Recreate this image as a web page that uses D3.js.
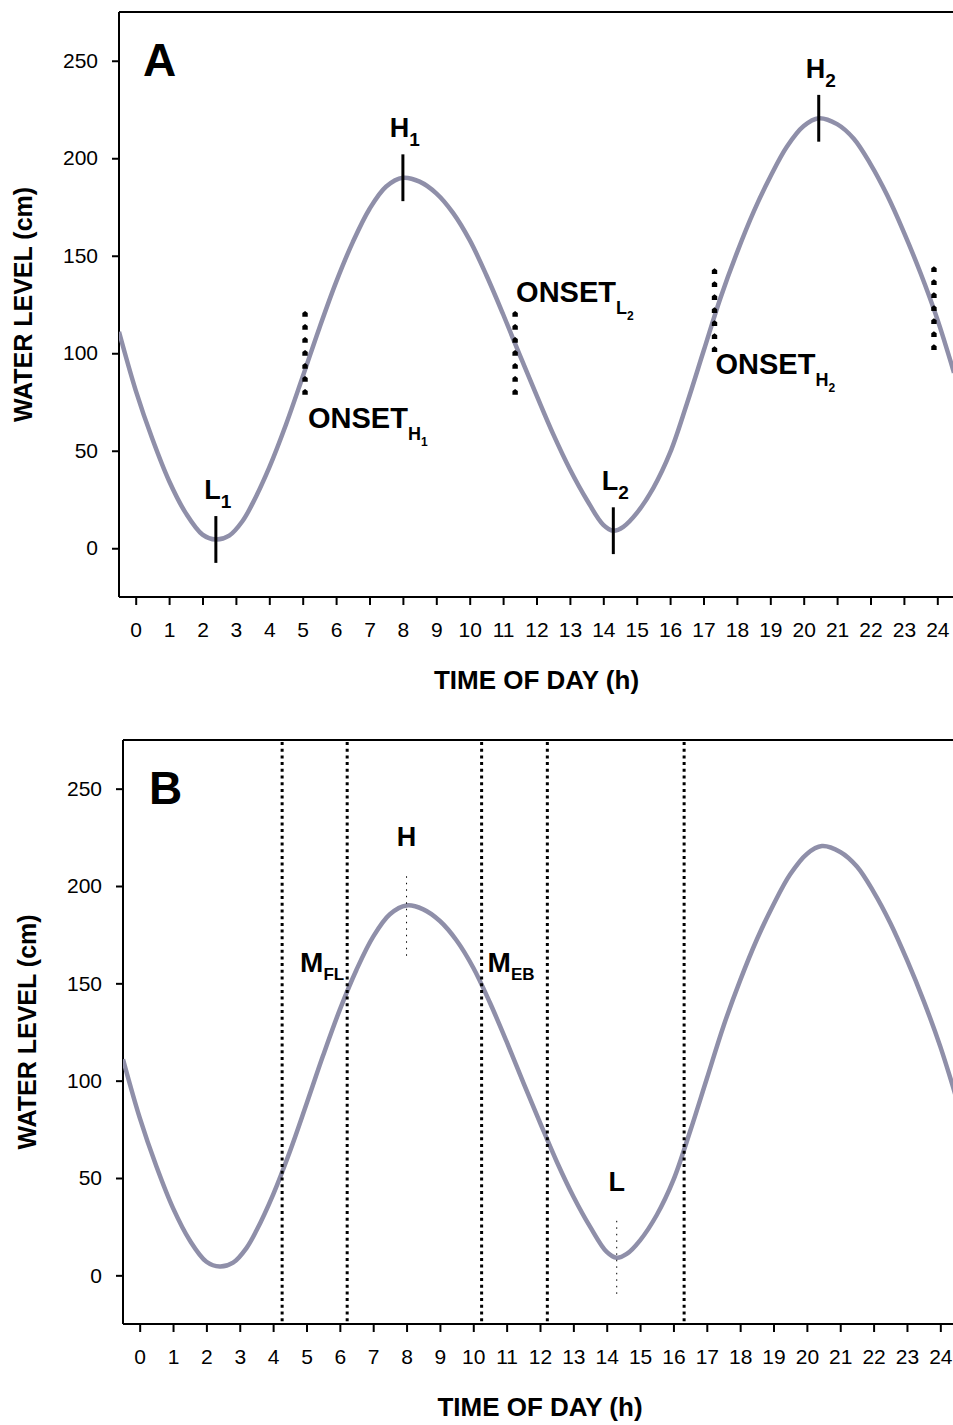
<!DOCTYPE html>
<html>
<head>
<meta charset="utf-8">
<script src="https://cdn.jsdelivr.net/npm/d3@7"></script>
<style>
  body { margin: 0; background: #fff; }
  svg { display: block; font-family: "Liberation Sans", Arial, Helvetica, sans-serif; }
</style>
</head>
<body>
<script>
// Tidal water level over one day (cm), sampled along the curve
const hours = [-0.5, 0, 0.5, 1, 1.5, 2, 2.4, 2.8, 3.2, 3.5, 4, 4.5, 5, 5.5, 6, 6.5, 7, 7.5, 8,
  8.5, 9, 9.5, 10, 10.5, 11, 11.5, 12, 12.5, 13, 13.5, 14, 14.3, 14.6, 15, 15.5, 16, 16.5,
  17, 17.5, 18, 18.5, 19, 19.5, 20, 20.45, 21, 21.5, 22, 22.5, 23, 23.5, 24, 24.5];
const waterLevel = [111, 81, 56, 34.5, 18, 7, 4.5, 6.5, 14, 23, 41.5, 63.5, 88, 113, 136.5,
  157, 174, 185.5, 190, 188, 182, 172, 158, 140, 120, 99, 78.5, 58.5, 40.5, 25, 12, 9, 11, 18,
  31, 49, 74, 101, 128, 151.5, 172.5, 190.5, 206, 216.5, 220.5, 217.5, 210, 197, 181, 162, 141,
  117.5, 90];

// Axis ticks
const hourTicks = [0, 1, 2, 3, 4, 5, 6, 7, 8, 9, 10, 11, 12, 13, 14, 15, 16, 17, 18, 19, 20, 21, 22, 23, 24];
const levelTicks = [0, 50, 100, 150, 200, 250];

// Low and high waters (panel A)
const extremeNames = ["L", "H", "L", "H"];
const extremeSubs = ["1", "1", "2", "2"];
const extremeHours = [2.4, 8.0, 14.3, 20.45];
const extremeLevels = [4.5, 190, 9, 220.5];

// Onset ranges (panel A)
const onsetHours = [5.07, 11.36, 17.33, 23.9];
const onsetLow = [80, 80, 102, 103];
const onsetHigh = [120, 120, 142, 143];
const onsetSubs = ["H", "L", "H", null];
const onsetSubSubs = ["1", "2", "2", null];

// Window boundaries (panel B)
const windowHours = [4.27, 6.22, 10.25, 12.22, 16.32];

const W = 953, H = 1425;
const FONT_BOLD = 700;
const curveColor = "#8f8fa9";

const svg = d3.select("body").append("svg").attr("width", W).attr("height", H);

const series = hours.map((h, i) => ({ h, v: waterLevel[i] }));

function makePanel(cfg) {
  const g = svg.append("g");
  const x = d3.scaleLinear().domain([-0.5, 24.5]).range([cfg.left, cfg.right]);
  const y = d3.scaleLinear().domain([-25, 275]).range([cfg.bottom, cfg.top]);

  const clipId = "clip" + cfg.name;
  svg.append("clipPath").attr("id", clipId)
    .append("rect").attr("x", cfg.left).attr("y", cfg.top)
    .attr("width", cfg.right - cfg.left).attr("height", cfg.bottom - cfg.top);

  // frame top line
  g.append("line").attr("x1", cfg.left).attr("x2", cfg.right + 5)
    .attr("y1", cfg.top).attr("y2", cfg.top)
    .attr("stroke", "#000").attr("stroke-width", 2);

  // y axis
  const ya = g.append("g").attr("transform", `translate(${cfg.left},0)`)
    .call(d3.axisLeft(y).tickValues(levelTicks).tickSize(7).tickSizeOuter(0).tickPadding(14));
  ya.select(".domain").attr("stroke-width", 2).attr("d", `M0,${cfg.top}V${cfg.bottom}`);
  ya.selectAll(".tick line").attr("stroke-width", 2);
  ya.selectAll(".tick text").attr("font-size", 21).attr("font-family", "Liberation Sans, Arial, sans-serif").attr("fill", "#000");

  // x axis
  const xa = g.append("g").attr("transform", `translate(0,${cfg.bottom})`)
    .call(d3.axisBottom(x).tickValues(hourTicks).tickSize(8).tickSizeOuter(0).tickPadding(17));
  xa.select(".domain").attr("stroke-width", 2).attr("d", `M${cfg.left},0H${cfg.right + 5}`);
  xa.selectAll(".tick line").attr("stroke-width", 2);
  xa.selectAll(".tick text").attr("font-size", 21).attr("font-family", "Liberation Sans, Arial, sans-serif").attr("fill", "#000");

  // axis titles
  g.append("text")
    .attr("transform", `translate(${cfg.yTitleX},${(cfg.top + cfg.bottom) / 2}) rotate(-90)`)
    .attr("text-anchor", "middle").attr("font-size", 25).attr("font-weight", FONT_BOLD)
    .text("WATER LEVEL (cm)");
  g.append("text")
    .attr("x", (cfg.left + cfg.right) / 2).attr("y", cfg.bottom + 92)
    .attr("text-anchor", "middle").attr("font-size", 26).attr("font-weight", FONT_BOLD)
    .text("TIME OF DAY (h)");

  // panel letter
  g.append("text").attr("x", cfg.left + cfg.letterDx).attr("y", y(250) + 15)
    .attr("font-size", 46).attr("font-weight", FONT_BOLD).text(cfg.name);

  const plot = g.append("g").attr("clip-path", `url(#${clipId})`);
  return { g, plot, x, y, top: cfg.top, bottom: cfg.bottom };
}

function labelWithSubs(parent, x, y, anchor, parts) {
  const t = parent.append("text").attr("x", x).attr("y", y)
    .attr("text-anchor", anchor).attr("font-weight", FONT_BOLD);
  parts.forEach(p => {
    t.append("tspan").attr("font-size", p.size).attr("dy", p.dy || 0).text(p.text);
  });
  return t;
}

function drawCurve(p) {
  const line = d3.line().x(d => p.x(d.h)).y(d => p.y(d.v)).curve(d3.curveCatmullRom.alpha(0.5));
  p.plot.append("path").datum(series)
    .attr("d", line).attr("fill", "none")
    .attr("stroke", curveColor).attr("stroke-width", 4.5)
    .attr("stroke-linejoin", "round");
}

// ---------- Panel A ----------
const A = makePanel({ name: "A", top: 12, bottom: 597, left: 119, right: 954, yTitleX: 32, letterDx: 24 });
drawCurve(A);

// extreme markers
extremeHours.forEach((h, i) => {
  const v = extremeLevels[i];
  A.g.append("line")
    .attr("x1", A.x(h)).attr("x2", A.x(h))
    .attr("y1", A.y(v + 12)).attr("y2", A.y(v - 12))
    .attr("stroke", "#000").attr("stroke-width", 3);
  labelWithSubs(A.g, A.x(h) + 2, A.y(v + 12) - 17, "middle", [
    { text: extremeNames[i], size: 27 },
    { text: extremeSubs[i], size: 19, dy: 9 }
  ]);
});

// onset dot columns
const dotShape = "M0,-3.2L2.7,-1.2L2.7,2.6L-2.7,2.6L-2.7,-1.2Z";
onsetHours.forEach((h, i) => {
  const vals = d3.range(7).map(k => onsetLow[i] + (onsetHigh[i] - onsetLow[i]) * k / 6);
  A.g.selectAll(null).data(vals).enter().append("path")
    .attr("d", dotShape)
    .attr("transform", v => `translate(${A.x(h)},${A.y(v)})`)
    .attr("fill", "#000");
});

// onset labels: offset of the baseline from the dot column
const onsetLabelPlace = [
  { dx: 3, anchorLevel: "low", dy: 36 },
  { dx: 1, anchorLevel: "high", dy: -12 },
  { dx: 1, anchorLevel: "low", dy: 25 }
];
onsetSubs.forEach((s, i) => {
  if (!s) return;
  const pl = onsetLabelPlace[i];
  const base = pl.anchorLevel === "low" ? A.y(onsetLow[i]) : A.y(onsetHigh[i]);
  labelWithSubs(A.g, A.x(onsetHours[i]) + pl.dx, base + pl.dy, "start", [
    { text: "ONSET", size: 29 },
    { text: s, size: 18, dy: 12 },
    { text: onsetSubSubs[i], size: 12, dy: 6 }
  ]);
});

// ---------- Panel B ----------
const B = makePanel({ name: "B", top: 740, bottom: 1324, left: 123, right: 957, yTitleX: 36, letterDx: 26 });
drawCurve(B);

windowHours.forEach(h => {
  B.g.append("line")
    .attr("x1", B.x(h)).attr("x2", B.x(h))
    .attr("y1", B.top + 2).attr("y2", B.bottom - 2)
    .attr("stroke", "#000").attr("stroke-width", 3)
    .attr("stroke-dasharray", "3,3.7");
});

// thin dotted marks at high and low water
const markSpan = [[-27, 15], [-19, 19]];
[1, 2].forEach((idx, k) => {
  const h = extremeHours[idx], v = extremeLevels[idx];
  B.g.append("line")
    .attr("x1", B.x(h)).attr("x2", B.x(h))
    .attr("y1", B.y(v + markSpan[k][1])).attr("y2", B.y(v + markSpan[k][0]))
    .attr("stroke", "#000").attr("stroke-width", 1)
    .attr("stroke-dasharray", "1.5,5");
  B.g.append("text")
    .attr("x", B.x(h)).attr("y", B.y(v + markSpan[k][1]) - 30)
    .attr("text-anchor", "middle").attr("font-size", 27).attr("font-weight", FONT_BOLD)
    .text(extremeNames[idx]);
});

// mid-flood and mid-ebb labels
labelWithSubs(B.g, B.x(windowHours[1]) - 3, B.y(156), "end", [
  { text: "M", size: 28 }, { text: "FL", size: 17, dy: 8 }
]);
labelWithSubs(B.g, B.x(windowHours[2]) + 6, B.y(156), "start", [
  { text: "M", size: 28 }, { text: "EB", size: 17, dy: 8 }
]);
</script>
</body>
</html>
